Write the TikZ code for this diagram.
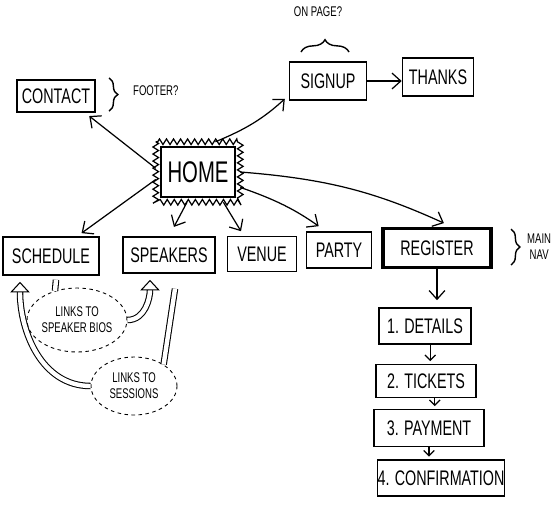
\documentclass[tikz,border=0pt]{standalone}
\usepackage{fontspec}
\setmainfont{Liberation Sans}[FakeStretch=0.68]
\usetikzlibrary{arrows.meta, positioning, calc, decorations.pathmorphing, decorations.pathreplacing, shapes.geometric}

\begin{document}
\begin{tikzpicture}[x=0.02cm, y=-0.02cm,
  box/.style={draw, line width=0.9pt, inner sep=0pt, font=\fontsize{12}{13}\selectfont},
  note/.style={font=\fontsize{8}{9}\selectfont, align=center},
  arr/.style={-{Straight Barb[length=5pt,width=9pt]}, line width=0.7pt},
  stepArr/.style={-{Straight Barb[length=3pt,width=6pt]}, line width=0.7pt, shorten >=1.5pt},
  hollow/.style={double, double distance=2.5pt, line width=0.6pt, -{Triangle[open,length=6pt,width=11pt]}},
  idea/.style={draw, dash pattern=on 2pt off 2pt, ellipse, line width=0.5pt, inner sep=0pt, note},
  curly/.style={decorate, decoration={brace, amplitude=#1}, line width=0.8pt}]
  \useasboundingbox (0,0) rectangle (553,508);

  \node[box, minimum width=1.56cm, minimum height=0.64cm] (contact) at (56,96) {CONTACT};
  \draw[curly=5pt] (109,78) -- (109,111);
  \node[note, anchor=west] (footer) at (127,91) {FOOTER?};

  \node[box, minimum width=1.54cm, minimum height=0.76cm] (signup) at (328,81) {SIGNUP};
  \node[box, minimum width=1.42cm, minimum height=0.76cm] (thanks) at (438,77) {THANKS};
  \draw[curly=7pt] (301,52) -- (349,52);
  \node[note] (onpage) at (318,12) {ON PAGE?};

  \node[box, font=\fontsize{17}{18}\selectfont, minimum width=1.48cm, minimum height=1cm, outer sep=3pt] (home) at (198,172) {HOME};
  \draw[decorate, decoration={zigzag, segment length=4pt, amplitude=1.6pt}, line width=0.7pt] (home.north west) rectangle (home.south east);

  \node[box, minimum width=1.92cm, minimum height=0.76cm] (schedule) at (51,256) {SCHEDULE};
  \node[box, minimum width=1.84cm, minimum height=0.72cm] (speakers) at (169,255) {SPEAKERS};
  \node[box, minimum width=1.38cm, minimum height=0.70cm] (venue) at (262,254) {VENUE};
  \node[box, minimum width=1.30cm, minimum height=0.72cm] (party) at (339,250) {PARTY};
  \node[box, line width=2pt, minimum width=2.16cm, minimum height=0.78cm] (register) at (437,248) {REGISTER};
  \draw[curly=5pt] (511,229) -- (511,265);
  \node[note, anchor=west] (mainnav) at (521,247) {MAIN\\NAV};

  \node[box, minimum width=1.84cm, minimum height=0.72cm] (details) at (425,326) {1. DETAILS};
  \node[box, minimum width=2cm, minimum height=0.66cm] (tickets) at (426,381) {2. TICKETS};
  \node[box, minimum width=2.2cm, minimum height=0.74cm] (payment) at (429,428) {3. PAYMENT};
  \node[box, minimum width=2.52cm, minimum height=0.72cm] (confirm) at (441,478) {4. CONFIRMATION};

  \node[idea, minimum width=1.88cm, minimum height=1.28cm] (bios) at (77,320) {LINKS TO\\SPEAKER BIOS};
  \node[idea, minimum width=1.72cm, minimum height=1.16cm] (sessions) at (134,386) {LINKS TO\\SESSIONS};

  \draw[arr, shorten >=3pt] (home.175) -- (contact.-30);
  \draw[arr, shorten >=3pt] (home.60) to[bend right=10] (signup.200);
  \draw[arr] (signup.east) -- (signup.east -| thanks.west);
  \draw[arr, shorten >=3pt] (home.190) -- (schedule.37);
  \draw[arr, shorten >=6pt] (home.250) -- (speakers.north);
  \draw[arr, shorten >=3pt] (home.310) -- (venue.135);
  \draw[arr, shorten >=5pt] (home.-20) to[bend left=8] (party.125);
  \draw[arr, shorten >=5pt] (home.0) to[bend left=10] (register.55);
  \draw[arr, shorten >=4pt] (register.south) -- (register.south |- details.north);
  \draw[stepArr] ([xshift=3pt]details.south) -- ([xshift=3pt]details.south |- tickets.north);
  \draw[stepArr] ([xshift=5pt]tickets.south) -- ([xshift=5pt]tickets.south |- payment.north);
  \draw[stepArr] (payment.south) -- (payment.south |- confirm.north);

  \draw[hollow] (bios.east) to[out=0, in=-90] ($(speakers.south)+(-19,6)$);
  \draw[double, double distance=2.5pt, line width=0.6pt] (bios.127) -- ($(schedule.south)+(5,4)$);
  \draw[double, double distance=2.5pt, line width=0.6pt] ($(speakers.south)+(6,15)$) -- (sessions.36);
  \draw[hollow] (sessions.west) to[out=180, in=-90] ($(schedule.south)+(-31,6)$);
\end{tikzpicture}
\end{document}
